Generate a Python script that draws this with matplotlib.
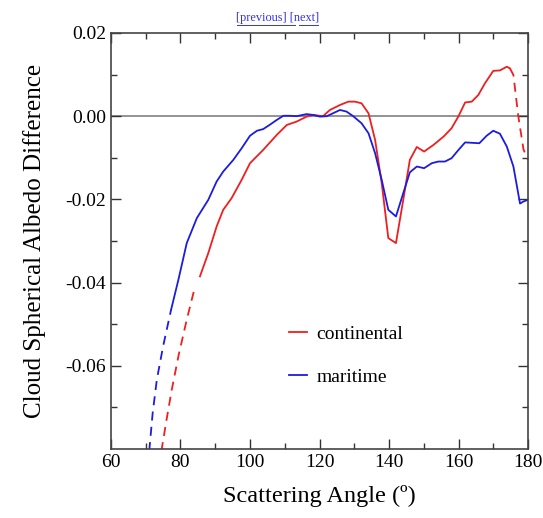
import matplotlib
matplotlib.use('Agg')
import matplotlib.pyplot as plt
from matplotlib.lines import Line2D

# continental (red): solid part plus dashed extrapolations at both ends
cont_angle = [85.6, 88.0, 90.4, 92.3, 94.7, 97.6, 100.0, 103.8, 107.7, 110.6, 113.4,
              116.3, 118.2, 121.0, 123.0, 125.9, 128.3, 130.2, 132.1, 134.1, 136.0,
              137.9, 139.8, 142.0, 144.1, 146.0, 148.0, 150.1, 152.8, 155.7, 158.0,
              160.0, 161.9, 163.8, 165.7, 167.6, 170.0, 171.9, 173.9, 174.8]
cont_diff = [-0.0385, -0.0329, -0.0265, -0.0225, -0.0197, -0.0153, -0.0113, -0.0081,
             -0.0045, -0.0021, -0.0013, -0.0001, 0.0003, 0.0000, 0.0015, 0.0027, 0.0035,
             0.0035, 0.0031, 0.0007, -0.0057, -0.0161, -0.0293, -0.0305, -0.0201,
             -0.0105, -0.0074, -0.0085, -0.0069, -0.0049, -0.0029, 0.0000, 0.0033,
             0.0035, 0.0051, 0.0079, 0.0109, 0.0110, 0.0119, 0.0115]
cont_lo_angle = [74.5, 76.0, 77.5, 79.4, 81.8, 84.2]
cont_lo_diff = [-0.0805, -0.0729, -0.0657, -0.0577, -0.0489, -0.0409]
cont_hi_angle = [174.8, 175.8, 177.2, 178.7, 180.0]
cont_hi_diff = [0.0115, 0.0099, 0.0000, -0.0080, -0.0105]

# maritime (blue)
mar_angle = [77.3, 79.4, 81.8, 84.7, 88.0, 90.4, 92.3, 95.2, 97.6, 100.0, 102.0, 103.8,
             105.8, 107.7, 109.6, 111.5, 113.4, 116.3, 118.2, 120.1, 122.1, 125.9,
             127.8, 129.7, 132.1, 134.1, 136.0, 137.9, 139.8, 142.0, 144.1, 146.0,
             148.0, 150.1, 152.3, 154.2, 156.1, 158.0, 160.0, 161.9, 166.0, 168.1,
             170.0, 171.9, 173.9, 175.8, 177.7, 178.7, 180.0]
mar_diff = [-0.0465, -0.0393, -0.0305, -0.0245, -0.0201, -0.0157, -0.0133, -0.0105,
            -0.0077, -0.0047, -0.0035, -0.0031, -0.0020, -0.0009, 0.0001, 0.0001,
            0.0000, 0.0005, 0.0003, -0.0001, 0.0000, 0.0015, 0.0011, 0.0000, -0.0017,
            -0.0041, -0.0089, -0.0153, -0.0225, -0.0241, -0.0185, -0.0135, -0.0121,
            -0.0125, -0.0113, -0.0109, -0.0109, -0.0101, -0.0081, -0.0063, -0.0065,
            -0.0047, -0.0035, -0.0042, -0.0073, -0.0121, -0.0210, -0.0205, -0.0201]
mar_lo_angle = [71.0, 72.0, 73.2, 75.0, 77.3]
mar_lo_diff = [-0.0805, -0.0713, -0.0633, -0.0553, -0.0465]

x_ticks = [60, 80, 100, 120, 140, 160, 180]
y_ticks = [-0.06, -0.04, -0.02, 0.00, 0.02]

red = '#f01e1e'
blue = '#1c1ce0'
lw = 1.3

plt.rcParams['font.family'] = 'Liberation Serif'

fig = plt.figure(figsize=(5.43, 5.18), dpi=100)
ax = fig.add_axes([0.2044, 0.1332, 0.7680, 0.8031])

ax.axhline(0, color='#808080', lw=1.2, zorder=1)

ax.plot(cont_angle, cont_diff, color=red, lw=lw, label='continental')
ax.plot(cont_lo_angle, cont_lo_diff, color=red, lw=lw, dashes=(5, 3.5))
ax.plot(cont_hi_angle, cont_hi_diff, color=red, lw=lw, dashes=(5, 3.5))
ax.plot(mar_angle, mar_diff, color=blue, lw=lw, label='maritime')
ax.plot(mar_lo_angle, mar_lo_diff, color=blue, lw=lw, dashes=(5, 3.5))

ax.set_xlim(60, 180)
ax.set_ylim(-0.08, 0.02)
ax.set_xticks(x_ticks)
ax.set_xticks(range(60, 181, 10), minor=True)
ax.set_yticks(y_ticks)
ax.set_yticklabels(['%.2f' % v for v in y_ticks])
ax.set_yticks([-0.07, -0.05, -0.03, -0.01, 0.01], minor=True)
ax.tick_params(which='both', direction='in', top=True, right=True,
               color='#333333', labelsize=14)
ax.tick_params(which='major', length=7, width=1)
ax.tick_params(which='minor', length=4, width=1)
for s in ax.spines.values():
    s.set_color('#444444')
    s.set_linewidth(1.2)

ax.set_xlabel('Scattering Angle (\u00ba)', fontsize=17.5, labelpad=10)
ax.set_ylabel('Cloud Spherical Albedo Difference', fontsize=18, labelpad=14)

ax.legend(loc='upper left', bbox_to_anchor=(0.428, 0.298), frameon=False,
          fontsize=14, handlelength=0.9, handletextpad=0.5, labelspacing=1.3,
          borderpad=0, borderaxespad=0)

# navigation links at the top
fig.text(0.511, 0.965, '[previous] [next]', color='#3333ee', fontsize=8.8,
         ha='center', va='center')
fig.add_artist(Line2D([0.437, 0.543], [0.952, 0.952], color='#3333ee', lw=0.7))
fig.add_artist(Line2D([0.550, 0.586], [0.952, 0.952], color='#3333ee', lw=0.7))

fig.savefig('out.png', dpi=100)
